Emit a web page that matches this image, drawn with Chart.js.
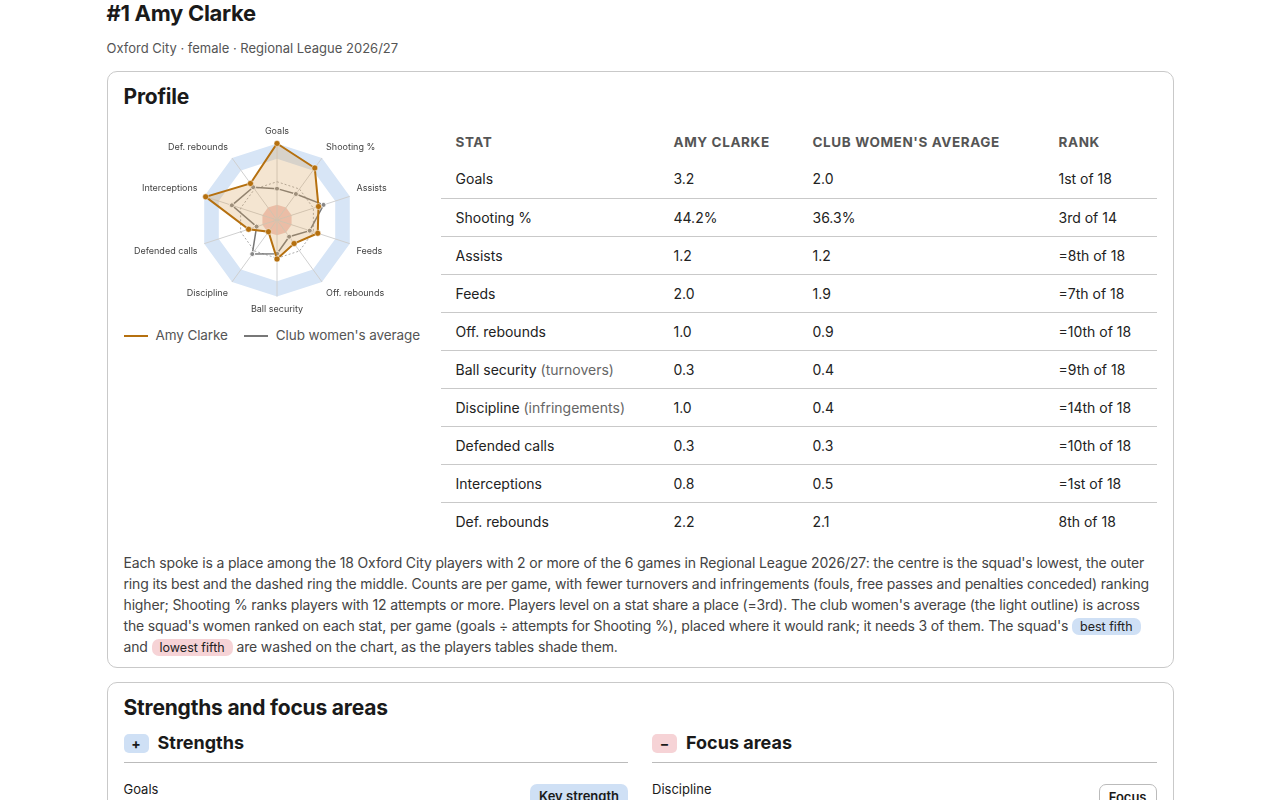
<!DOCTYPE html>
<html><head><meta charset="utf-8">
<script src="https://cdn.jsdelivr.net/npm/chart.js@4/dist/chart.umd.min.js"></script>
<style>
*{box-sizing:border-box}
body{margin:0;background:#fff;font-family:Inter,"Noto Sans",Roboto,sans-serif;color:#1a1a1a}
.wrap{width:1067px;margin:0 auto;padding-top:0}
h1{font-size:22px;line-height:26px;margin:0;font-weight:700;letter-spacing:-0.3px}
.sub{font-size:13px;color:#555;line-height:18px;margin-top:13px}
.card{border:1px solid #c9c9c9;border-radius:10px;padding:12px 16px 10px 16px;margin-top:14px}
.card h2{font-size:21px;line-height:26px;margin:0;font-weight:700;letter-spacing:-0.2px}
.row{display:flex;margin-top:13px}
.left{width:302px}
.chartbox{width:302px;height:196px;position:relative;margin-top:-1px}
.legend{display:flex;font-size:13.5px;color:#555;margin-top:9px;letter-spacing:-0.1px;line-height:17px}
.legend span{display:flex;align-items:center}
.legend i{display:inline-block;width:24px;height:2px;margin-right:8px}
table{border-collapse:collapse;margin-left:15px;width:717px;font-size:14px}
th{font-size:13.5px;font-weight:700;color:#555;text-transform:uppercase;letter-spacing:0.6px;text-align:left;height:37px;padding:0 0 0 15px}
td{height:38px;padding:0 0 0 15px;color:#222;border-top:1px solid #c9c9c9}
tr:nth-child(1) td{border-top:none}
.muted{color:#666}
p{font-size:14px;line-height:21px;color:#444;margin:12px 0 0 0;letter-spacing:-0.15px}
.pill{display:inline-block;border-radius:7px;padding:0 8px;font-size:12.5px;line-height:17px;color:#222;letter-spacing:0}
.blue{background:#cfe0f5}.pink{background:#f6d3d6}
.cols{display:flex;gap:24px;margin-top:10px}
.col{flex:1}
h3{font-size:18px;line-height:24px;margin:0;font-weight:700;display:flex;align-items:center;padding-bottom:7px;border-bottom:1px solid #bbb}
.badge{display:inline-block;width:25px;height:19px;border-radius:5px;text-align:center;line-height:19px;font-size:14px;margin-right:9px}
.item{display:flex;justify-content:space-between;font-size:13px;margin-top:18px}
.ks{background:#cfe0f5;border-radius:7px;padding:4px 9px;font-weight:600;font-size:13px;margin-top:3px}
.fc{border:1px solid #bbb;border-radius:7px;padding:4px 9px;font-weight:600;font-size:13px;margin-top:3px}
</style></head><body>
<div class="wrap">
<h1>#1 Amy Clarke</h1>
<div class="sub">Oxford City · female · Regional League 2026/27</div>
<div class="card">
<h2>Profile</h2>
<div class="row">
<div class="left">
<div class="chartbox"><canvas id="c"></canvas></div>
<div class="legend" id="lg"></div>
</div>
<table id="t"><thead><tr><th style="width:218px">Stat</th><th style="width:139px">Amy Clarke</th><th style="width:246px">Club women's average</th><th>Rank</th></tr></thead><tbody></tbody></table>
</div>
<p>Each spoke is a place among the 18 Oxford City players with 2 or more of the 6 games in Regional League 2026/27: the centre is the squad's lowest, the outer ring its best and the dashed ring the middle. Counts are per game, with fewer turnovers and infringements (fouls, free passes and penalties conceded) ranking higher; Shooting % ranks players with 12 attempts or more. Players level on a stat share a place (=3rd). The club women's average (the light outline) is across the squad's women ranked on each stat, per game (goals ÷ attempts for Shooting %), placed where it would rank; it needs 3 of them. The squad's <span class="pill blue">best fifth</span> and <span class="pill pink">lowest fifth</span> are washed on the chart, as the players tables shade them.</p>
</div>
<div class="card">
<h2>Strengths and focus areas</h2>
<div class="cols">
<div class="col"><h3><span class="badge blue">+</span>Strengths</h3><div class="item"><span>Goals</span><span class="ks">Key strength</span></div></div>
<div class="col"><h3><span class="badge pink">−</span>Focus areas</h3><div class="item"><span>Discipline</span><span class="fc">Focus</span></div></div>
</div>
</div>
</div>
<script>
const spokes = ['Goals','Shooting %','Assists','Feeds','Off. rebounds','Ball security','Discipline','Defended calls','Interceptions','Def. rebounds'];
const amyPlace = [1.0, 0.84, 0.57, 0.56, 0.38, 0.51, 0.19, 0.39, 0.98, 0.59];
const clubPlace = [0.41, 0.42, 0.64, 0.45, 0.27, 0.44, 0.55, 0.28, 0.62, 0.53];
const bandBest = [0.8, 1.0];
const bandLowest = [0, 0.2];
const middleRing = 0.5;

const statNames = ['Goals','Shooting %','Assists','Feeds','Off. rebounds','Ball security','Discipline','Defended calls','Interceptions','Def. rebounds'];
const statNotes = ['','','','','','turnovers','infringements','','',''];
const amyValues = ['3.2','44.2%','1.2','2.0','1.0','0.3','1.0','0.3','0.8','2.2'];
const clubValues = ['2.0','36.3%','1.2','1.9','0.9','0.4','0.4','0.3','0.5','2.1'];
const ranks = ['1st of 18','3rd of 14','=8th of 18','=7th of 18','=10th of 18','=9th of 18','=14th of 18','=10th of 18','=1st of 18','8th of 18'];

const tb = document.querySelector('#t tbody');
statNames.forEach((s,i)=>{
  const tr=document.createElement('tr');
  tr.innerHTML='<td>'+s+(statNotes[i]?' <span class="muted">('+statNotes[i]+')</span>':'')+'</td><td>'+amyValues[i]+'</td><td>'+clubValues[i]+'</td><td>'+ranks[i]+'</td>';
  tb.appendChild(tr);
});

function polyPath(ctx, scale, v, n){
  for(let i=0;i<n;i++){
    const p=scale.getPointPositionForValue(i,v);
    if(i===0)ctx.moveTo(p.x,p.y);else ctx.lineTo(p.x,p.y);
  }
  ctx.closePath();
}
const bands={id:'bands',
  beforeDraw(chart){
    const s=chart.scales.r,ctx=chart.ctx,n=spokes.length;
    ctx.save();
    ctx.beginPath();polyPath(ctx,s,bandBest[1],n);polyPath(ctx,s,bandBest[0],n);
    ctx.fillStyle='#d7e5f6';ctx.fill('evenodd');
    ctx.beginPath();polyPath(ctx,s,bandLowest[1],n);
    ctx.fillStyle='rgba(230,145,135,0.5)';ctx.fill();
    ctx.restore();
  },
  beforeDatasetsDraw(chart){
    const s=chart.scales.r,ctx=chart.ctx,n=spokes.length;
    ctx.save();ctx.beginPath();polyPath(ctx,s,middleRing,n);
    ctx.setLineDash([2,2]);ctx.strokeStyle='#aaa';ctx.lineWidth=1;ctx.stroke();ctx.restore();
  }
};
const chart = new Chart(document.getElementById('c'),{
  type:'radar',
  data:{labels:spokes,datasets:[
    {label:'Amy Clarke',data:amyPlace,borderColor:'#b5700f',backgroundColor:'rgba(214,160,90,0.28)',borderWidth:2,fill:true,pointRadius:3,pointBackgroundColor:'#b5700f',pointBorderColor:'#fff',pointBorderWidth:0.5},
    {label:"Club women's average",data:clubPlace,borderColor:'#777',backgroundColor:'transparent',borderWidth:1.5,fill:false,pointRadius:2.5,pointBackgroundColor:'#888',pointBorderColor:'#fff',pointBorderWidth:1}
  ]},
  options:{responsive:true,maintainAspectRatio:false,animation:false,
    layout:{padding:{top:2,right:16,left:0,bottom:0}},
    scales:{r:{min:0,max:1,ticks:{display:false,stepSize:0.2},grid:{display:false},
      angleLines:{color:'#d0d0d0'},
      pointLabels:{font:{size:9,family:'Inter'},color:'#444',padding:7}}},
    plugins:{legend:{display:false},tooltip:{enabled:false}}
  },
  plugins:[bands]
});
const lg=document.getElementById('lg');
chart.data.datasets.forEach((d,i)=>{
  const s=document.createElement('span');
  s.style.marginRight=i===0?'16px':'0';
  s.innerHTML='<i style="background:'+d.borderColor+'"></i>'+d.label;
  lg.appendChild(s);
});
</script>
</body></html>
